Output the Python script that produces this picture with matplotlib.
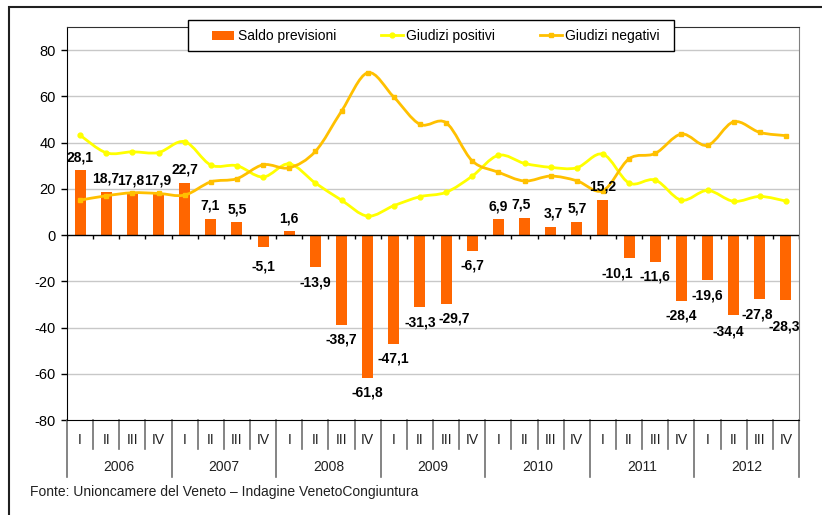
import matplotlib
matplotlib.use("Agg")
import matplotlib.pyplot as plt
from matplotlib.path import Path
from matplotlib.patches import PathPatch, Patch, Rectangle
from matplotlib.lines import Line2D
import matplotlib.transforms as mtransforms
import numpy as np

plt.rcParams['font.family'] = ['Liberation Sans', 'DejaVu Sans']
plt.rcParams['axes.unicode_minus'] = False

years = ['2006', '2007', '2008', '2009', '2010', '2011', '2012']
quarters = ['I', 'II', 'III', 'IV']

saldo = [28.1, 18.7, 17.8, 17.9,
         22.7, 7.1, 5.5, -5.1,
         1.6, -13.9, -38.7, -61.8,
         -47.1, -31.3, -29.7, -6.7,
         6.9, 7.5, 3.7, 5.7,
         15.2, -10.1, -11.6, -28.4,
         -19.6, -34.4, -27.8, -28.3]

positivi = [43.2, 35.6, 36.0, 35.7,
            40.4, 30.3, 30.0, 25.1,
            30.8, 22.5, 15.1, 8.2,
            12.7, 16.6, 18.5, 25.5,
            34.5, 31.0, 29.3, 29.1,
            35.0, 22.5, 23.8, 15.1,
            19.3, 14.6, 16.7, 14.7]

negativi = [15.1, 17.0, 18.3, 18.0,
            17.3, 23.0, 24.4, 30.4,
            29.1, 36.2, 53.6, 70.2,
            59.7, 47.9, 48.6, 32.1,
            27.2, 23.4, 25.5, 23.5,
            19.2, 33.0, 35.3, 43.7,
            38.8, 49.0, 44.4, 43.0]

# label offsets in pixels (dx, dy) for labels placed off the default spot
label_shift = {3: (-1, 0), 2: (-2, 0), 1: (-1, 0), 5: (-1, 0), 7: (0, -5),
               14: (8, 0), 17: (-3, 0), 18: (3, 0), 21: (-12, 0),
               25: (-5, -2), 26: (-3, 0), 27: (-2, -11)}

W, H = 822, 515
fig = plt.figure(figsize=(W / 100, H / 100), dpi=100)
L, R, T, B = 67, 799, 27, 420
ax = fig.add_axes([L / W, 1 - B / H, (R - L) / W, (B - T) / H])

n = len(saldo)
x = np.arange(n)

ax.set_xlim(-0.5, n - 0.5)
ax.set_ylim(-80, 90)
ax.set_yticks(np.arange(-80, 81, 20))
ax.set_xticks([])
ax.tick_params(axis='y', direction='out', length=4, width=1, labelsize=10.5, pad=4, colors='black')

for v in range(-60, 81, 20):
    if v != 0:
        ax.axhline(v, color='#c8c8c8', lw=1, zorder=0)

ax.bar(x, saldo, width=0.42, color='#ff6600', zorder=2)
ax.axhline(0, color='black', lw=1, zorder=3)
ax.vlines(np.arange(n + 1) - 0.5, 0, -1.8, color='black', lw=1, zorder=3)

for s in ['left', 'bottom']:
    ax.spines[s].set_color('black')
ax.spines['top'].set_color('#303030')
ax.spines['right'].set_color('#808080')


def smooth_path(xs, ys):
    pts = np.column_stack([xs, ys])
    verts = [pts[0]]
    codes = [Path.MOVETO]
    m = len(pts)
    for i in range(m - 1):
        p0 = pts[i - 1] if i > 0 else pts[i]
        p1 = pts[i]
        p2 = pts[i + 1]
        p3 = pts[i + 2] if i + 2 < m else pts[i + 1]
        c1 = p1 + (p2 - p0) / 6.0
        c2 = p2 - (p3 - p1) / 6.0
        verts += [c1, c2, p2]
        codes += [Path.CURVE4] * 3
    return Path(verts, codes)


for ys, col, mk in [(positivi, '#ffff00', 'o'), (negativi, '#ffc000', 's')]:
    ax.add_patch(PathPatch(smooth_path(x, ys), facecolor='none', edgecolor=col, lw=2, zorder=4))
    ax.plot(x, ys, ls='none', marker=mk, ms=3.5, color=col, zorder=5)

for i, v in enumerate(saldo):
    dx, dy = label_shift.get(i, (0, 0))
    off = 13 if v >= 0 else -15
    ax.annotate(f"{v:.1f}".replace('.', ','), (i, v), xytext=(dx, off + dy),
                textcoords='offset pixels', ha='center', va='center',
                fontsize=10, fontweight='bold', zorder=6)

# category axis (quarters / years)
trans = mtransforms.blended_transform_factory(ax.transData, ax.transAxes)
ah = B - T
for i in range(n + 1):
    xb = i - 0.5
    ylow = -57 / ah if i % 4 == 0 else -29 / ah
    ax.plot([xb, xb], [0, ylow], transform=trans, color='#707070', lw=1.2, clip_on=False)
for i in range(n):
    ax.text(i, -20 / ah, quarters[i % 4], transform=trans, ha='center', va='center',
            fontsize=10, color='#202020')
for j, yname in enumerate(years):
    ax.text(j * 4 + 1.5, -47 / ah, yname, transform=trans, ha='center', va='center',
            fontsize=10, color='#202020')

# legend box
fig.patches.append(Rectangle((188 / W, 1 - 51 / H), (674 - 188) / W, 31 / H,
                             transform=fig.transFigure, facecolor='white',
                             edgecolor='black', lw=1, zorder=10))
handles = [Patch(facecolor='#ff6600', edgecolor='none'),
           Line2D([], [], color='#ffff00', lw=2, marker='o', ms=3.5),
           Line2D([], [], color='#ffc000', lw=2, marker='s', ms=3.5)]
leg = fig.legend(handles, ['Saldo previsioni', 'Giudizi positivi', 'Giudizi negativi'],
                 loc='center left', bbox_to_anchor=(212 / W, 1 - 36 / H), ncol=3,
                 fontsize=10, frameon=False, handlelength=1.6, handleheight=0.6,
                 handletextpad=0.25, columnspacing=3.2, borderpad=0, borderaxespad=0)
leg.set_zorder(11)

# outer chart frame
fig.patches.append(Rectangle((9 / W, -0.1), 1.2, 1.1 - 7 / H, transform=fig.transFigure,
                             facecolor='none', edgecolor='#202020', lw=1.5))

fig.text(30 / W, 1 - 492 / H, 'Fonte: Unioncamere del Veneto \u2013 Indagine VenetoCongiuntura',
         ha='left', va='center', fontsize=10, color='#202020')

fig.savefig('out.png', dpi=100)
